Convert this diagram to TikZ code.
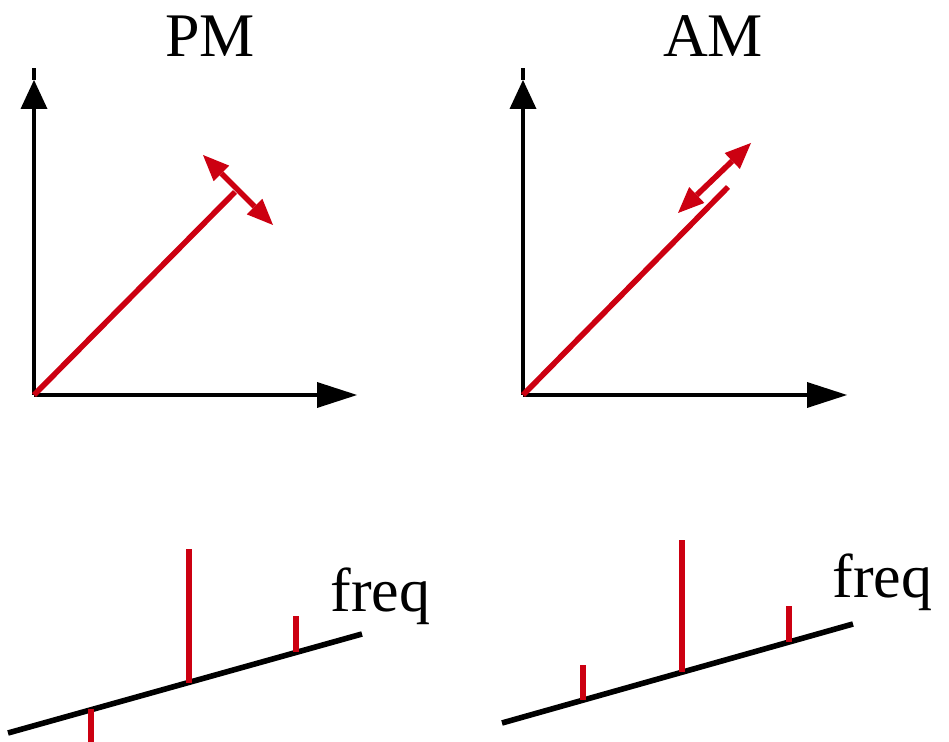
\documentclass[tikz,border=0pt]{standalone}
\usepackage{fontspec}
\setmainfont{Liberation Serif}
\usetikzlibrary{arrows.meta}
\definecolor{vred}{RGB}{204,0,17}
\begin{document}
\begin{tikzpicture}[x=0.5pt,y=-0.5pt,
  axis/.style={line width=2.4pt,black},
  vtip/.style={-{Triangle[length=14.5pt,width=13.5pt,line width=0pt]}},
  htip/.style={-{Triangle[length=20pt,width=13pt,line width=0pt]}},
  vec/.style={line width=2.8pt,vred},
  dbl/.style={line width=2.8pt,vred,{Triangle[length=13pt,width=11pt,line width=0pt]}-{Triangle[length=13pt,width=11pt,line width=0pt]}},
  faxis/.style={line width=2.8pt,black},
  spike/.style={line width=3.2pt,vred},
  lbl/.style={font=\fontsize{31}{31}\selectfont,inner sep=0pt}]
\useasboundingbox (0,0) rectangle (949,742);

% ---------- PM phasor ----------
\coordinate (pO) at (34,395);
\coordinate (pYt) at (34,80);
\coordinate (pYe) at (34,68);
\coordinate (pXt) at (357,395);
\draw[axis,vtip] (pO) -- (pYt);
\draw[axis] (pYt) -- (pYe);
\draw[axis,htip] (pO) -- (pXt);
\coordinate (pV) at (235,192);
\draw[vec] (pO) -- (pV);
\coordinate (pA1) at (203,155);
\coordinate (pA2) at (273,225);
\draw[dbl] (pA1) -- (pA2);
\node[lbl,anchor=base] (pm) at (210,57) {PM};

% ---------- AM phasor ----------
\coordinate (aO) at (523,395);
\coordinate (aYt) at (523,80);
\coordinate (aYe) at (523,68);
\coordinate (aXt) at (847,395);
\draw[axis,vtip] (aO) -- (aYt);
\draw[axis] (aYt) -- (aYe);
\draw[axis,htip] (aO) -- (aXt);
\coordinate (aV) at (728,187);
\draw[vec] (aO) -- (aV);
\coordinate (aA1) at (678,213);
\coordinate (aA2) at (751,143);
\draw[dbl] (aA1) -- (aA2);
\node[lbl,anchor=base] (am) at (713,57) {AM};

% ---------- PM spectrum ----------
\coordinate (pb1) at (8,733);
\coordinate (pb2) at (362,634);
\draw[faxis] (pb1) -- (pb2);
\coordinate (ps1a) at (91,709);  \coordinate (ps1b) at (91,742);
\coordinate (ps2a) at (189,683); \coordinate (ps2b) at (189,549);
\coordinate (ps3a) at (296,652); \coordinate (ps3b) at (296,616);
\draw[spike] (ps1a) -- (ps1b);
\draw[spike] (ps2a) -- (ps2b);
\draw[spike] (ps3a) -- (ps3b);
\node[lbl,anchor=base west] (pf) at (330,612) {freq};

% ---------- AM spectrum ----------
\coordinate (ab1) at (502,723);
\coordinate (ab2) at (853,624);
\draw[faxis] (ab1) -- (ab2);
\coordinate (as1a) at (583,700); \coordinate (as1b) at (583,665);
\coordinate (as2a) at (682,672); \coordinate (as2b) at (682,540);
\coordinate (as3a) at (789,642); \coordinate (as3b) at (789,606);
\draw[spike] (as1a) -- (as1b);
\draw[spike] (as2a) -- (as2b);
\draw[spike] (as3a) -- (as3b);
\node[lbl,anchor=base west] (af) at (832,598) {freq};
\end{tikzpicture}
\end{document}
